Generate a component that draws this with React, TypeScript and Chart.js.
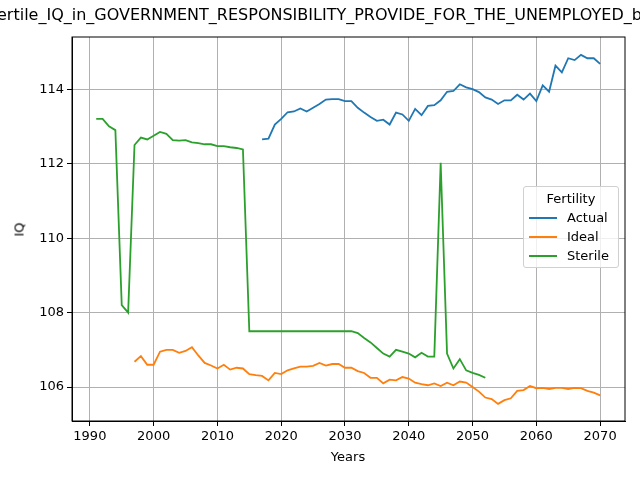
import { useEffect, useRef } from 'react';
import { Chart, registerables } from 'chart.js';

Chart.register(...registerables);

const actualYears = Array.from({ length: 54 }, (_, i) => 2017 + i);
const actualIQ = [112.65, 112.67, 113.05, 113.2, 113.38, 113.4, 113.48, 113.4, 113.5, 113.6, 113.72, 113.73, 113.73, 113.68, 113.68, 113.5, 113.37, 113.25, 113.15, 113.18, 113.05, 113.37, 113.32, 113.15, 113.47, 113.3, 113.55, 113.57, 113.7, 113.93, 113.95, 114.13, 114.05, 114.0, 113.92, 113.78, 113.72, 113.6, 113.7, 113.7, 113.85, 113.72, 113.88, 113.68, 114.1, 113.93, 114.63, 114.45, 114.83, 114.78, 114.92, 114.83, 114.83, 114.68];

const idealYears = Array.from({ length: 74 }, (_, i) => 1997 + i);
const idealIQ = [106.68, 106.83, 106.6, 106.6, 106.95, 107.0, 107.0, 106.92, 106.97, 107.07, 106.85, 106.65, 106.58, 106.5, 106.6, 106.47, 106.52, 106.5, 106.35, 106.32, 106.3, 106.18, 106.38, 106.35, 106.45, 106.5, 106.55, 106.55, 106.57, 106.65, 106.58, 106.62, 106.62, 106.52, 106.52, 106.43, 106.38, 106.25, 106.25, 106.1, 106.2, 106.18, 106.27, 106.23, 106.12, 106.08, 106.05, 106.1, 106.03, 106.12, 106.05, 106.15, 106.12, 106.0, 105.88, 105.72, 105.68, 105.55, 105.65, 105.7, 105.9, 105.92, 106.03, 105.97, 105.98, 105.95, 105.98, 105.98, 105.95, 105.98, 105.97, 105.9, 105.85, 105.78];

const sterileYears = Array.from({ length: 62 }, (_, i) => 1991 + i);
const sterileIQ = [113.2, 113.2, 113.0, 112.9, 108.2, 108.0, 112.5, 112.7, 112.65, 112.75, 112.85, 112.8, 112.63, 112.62, 112.63, 112.57, 112.55, 112.52, 112.52, 112.47, 112.47, 112.44, 112.42, 112.38, 107.5, 107.5, 107.5, 107.5, 107.5, 107.5, 107.5, 107.5, 107.5, 107.5, 107.5, 107.5, 107.5, 107.5, 107.5, 107.5, 107.5, 107.45, 107.32, 107.2, 107.05, 106.9, 106.82, 107.0, 106.95, 106.9, 106.8, 106.92, 106.82, 106.82, 112.02, 106.9, 106.5, 106.75, 106.45, 106.38, 106.33, 106.25];

const xTicks = [1990, 2000, 2010, 2020, 2030, 2040, 2050, 2060, 2070];
const yTicks = [106, 108, 110, 112, 114];

const series = [
  { label: 'Actual', years: actualYears, values: actualIQ, color: '#1f77b4' },
  { label: 'Ideal', years: idealYears, values: idealIQ, color: '#ff7f0e' },
  { label: 'Sterile', years: sterileYears, values: sterileIQ, color: '#2ca02c' },
];

const font = 'DejaVu Sans';

// draws the full black box round the plot area
const framePlugin = {
  id: 'frame',
  afterDraw(chart: any) {
    const { ctx, chartArea: a } = chart;
    ctx.save();
    ctx.strokeStyle = '#000';
    ctx.lineWidth = 1;
    ctx.strokeRect(a.left, a.top, a.right - a.left, a.bottom - a.top);
    ctx.restore();
  },
};

export default function App() {
  const chartRef = useRef<HTMLCanvasElement>(null);
  const chartInstance = useRef<Chart | null>(null);

  useEffect(() => {
    document.body.style.margin = '0';
    if (!chartRef.current) return;
    chartInstance.current = new Chart(chartRef.current, {
      type: 'line',
      data: {
        datasets: series.map((s) => ({
          label: s.label,
          data: s.years.map((y, i) => ({ x: y, y: s.values[i] })),
          borderColor: s.color,
          backgroundColor: s.color,
          borderWidth: 1.8,
          pointRadius: 0,
          tension: 0,
        })),
      },
      plugins: [framePlugin],
      options: {
        animation: false,
        responsive: false,
        layout: { padding: { top: 37, right: 15, left: 0, bottom: 0 } },
        plugins: { legend: { display: false }, title: { display: false }, tooltip: { enabled: false } },
        scales: {
          x: {
            type: 'linear',
            min: 1987.2,
            max: 2073.9,
            afterBuildTicks: (axis: any) => { axis.ticks = xTicks.map((v) => ({ value: v })); },
            afterFit: (axis: any) => { axis.height = 59; },
            grid: { color: '#b0b0b0', tickLength: 5, tickColor: '#000' },
            border: { color: '#000' },
            ticks: { color: '#000', font: { family: font, size: 13 }, maxRotation: 0, callback: (v: any) => String(v) },
          },
          y: {
            min: 105.09,
            max: 115.4,
            afterBuildTicks: (axis: any) => { axis.ticks = yTicks.map((v) => ({ value: v })); },
            afterFit: (axis: any) => { axis.width = 72; },
            grid: { color: '#b0b0b0', tickLength: 5, tickColor: '#000' },
            border: { color: '#000' },
            ticks: { color: '#000', font: { family: font, size: 13 }, callback: (v: any) => String(v) },
          },
        },
      },
    });
    return () => { chartInstance.current?.destroy(); };
  }, []);

  return (
    <div style={{ position: 'relative', width: 640, height: 480, overflow: 'hidden', fontFamily: font }}>
      <canvas ref={chartRef} width={640} height={480} />
      <div style={{ position: 'absolute', top: 5, left: 320, transform: 'translateX(-50%)', whiteSpace: 'nowrap', fontSize: 16 }}>
        Fertile_IQ_in_GOVERNMENT_RESPONSIBILITY_PROVIDE_FOR_THE_UNEMPLOYED_by
      </div>
      <div style={{ position: 'absolute', top: 449, left: 348, transform: 'translateX(-50%)', fontSize: 13 }}>Years</div>
      <div style={{ position: 'absolute', top: 222, left: 12, transform: 'rotate(-90deg)', fontSize: 13 }}>IQ</div>
      <div style={{ position: 'absolute', left: 523, top: 186, width: 94, height: 80, background: 'rgba(255,255,255,0.8)', border: '1px solid #d0d0d0', borderRadius: 3, fontSize: 13, color: '#000' }}>
        <div style={{ textAlign: 'center', marginTop: 4 }}>Fertility</div>
        {series.map((s) => (
          <div key={s.label} style={{ display: 'flex', alignItems: 'center', marginTop: 4, marginLeft: 5 }}>
            <span style={{ display: 'inline-block', width: 28, height: 2, background: s.color, marginRight: 10 }} />
            {s.label}
          </div>
        ))}
      </div>
    </div>
  );
}
